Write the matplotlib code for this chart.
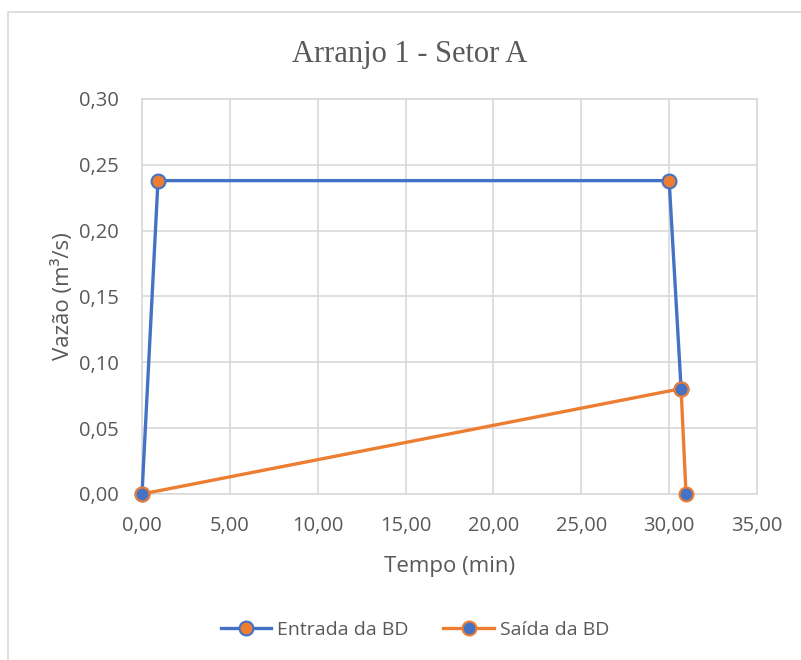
import matplotlib
matplotlib.use('Agg')
from matplotlib import pyplot as plt
from matplotlib.patches import Rectangle
from matplotlib.ticker import FuncFormatter

# dados
tempo_entrada = [0.0, 0.91, 30.0, 30.68]
vazao_entrada = [0.0, 0.238, 0.238, 0.080]
tempo_saida = [0.0, 30.68, 30.96]
vazao_saida = [0.0, 0.080, 0.0]

azul = '#4472C4'
laranja = '#ED7D31'
cinza = '#595959'

plt.rcParams['font.family'] = ['Open Sans', 'DejaVu Sans']

fig = plt.figure(figsize=(8.01, 6.6), dpi=100)
fig.patches.append(Rectangle((8 / 801, -0.01), 1.0, 1 - 12 / 660 + 0.01,
                             transform=fig.transFigure, fill=False,
                             edgecolor='#D9D9D9', linewidth=1.2))

ax = fig.add_axes([142 / 801, 166 / 660, 615 / 801, 395 / 660])

ax.plot(tempo_entrada, vazao_entrada, color=azul, lw=2.4, marker='o', ms=10,
        mfc=laranja, mec=azul, mew=1.5, label='Entrada da BD', zorder=3,
        clip_on=False)
ax.plot(tempo_saida, vazao_saida, color=laranja, lw=2.4, marker='o', ms=10,
        mfc=azul, mec=laranja, mew=1.5, label='Saída da BD', zorder=4,
        clip_on=False)

ax.set_xlim(0, 35)
ax.set_ylim(0, 0.30)
ax.set_xticks([0, 5, 10, 15, 20, 25, 30, 35])
ax.set_yticks([0, 0.05, 0.10, 0.15, 0.20, 0.25, 0.30])
fmt = FuncFormatter(lambda v, p: f'{v:.2f}'.replace('.', ','))
ax.xaxis.set_major_formatter(fmt)
ax.yaxis.set_major_formatter(fmt)
ax.tick_params(length=0, labelsize=14.5, colors=cinza)
ax.tick_params(axis='y', pad=17)
ax.tick_params(axis='x', pad=16)
ax.grid(True, color='#D9D9D9', lw=1.2)
ax.set_axisbelow(True)
for s in ax.spines.values():
    s.set_color('#D9D9D9')
    s.set_linewidth(1.2)

ax.set_xlabel('Tempo (min)', fontsize=16, color=cinza, labelpad=14)
ax.set_ylabel('Vazão (m³/s)', fontsize=16, color=cinza, labelpad=3)
fig.text(0.512, 0.918, 'Arranjo 1 - Setor A', ha='center', va='center',
         fontsize=22, color=cinza, family='Liberation Serif')

ax.legend(loc='center', bbox_to_anchor=(0.518, 0.045), bbox_transform=fig.transFigure,
          ncol=2, frameon=False, fontsize=14, labelcolor=cinza,
          handlelength=2.6, columnspacing=1.8, handletextpad=0.3)

plt.savefig('out.png', dpi=100)
